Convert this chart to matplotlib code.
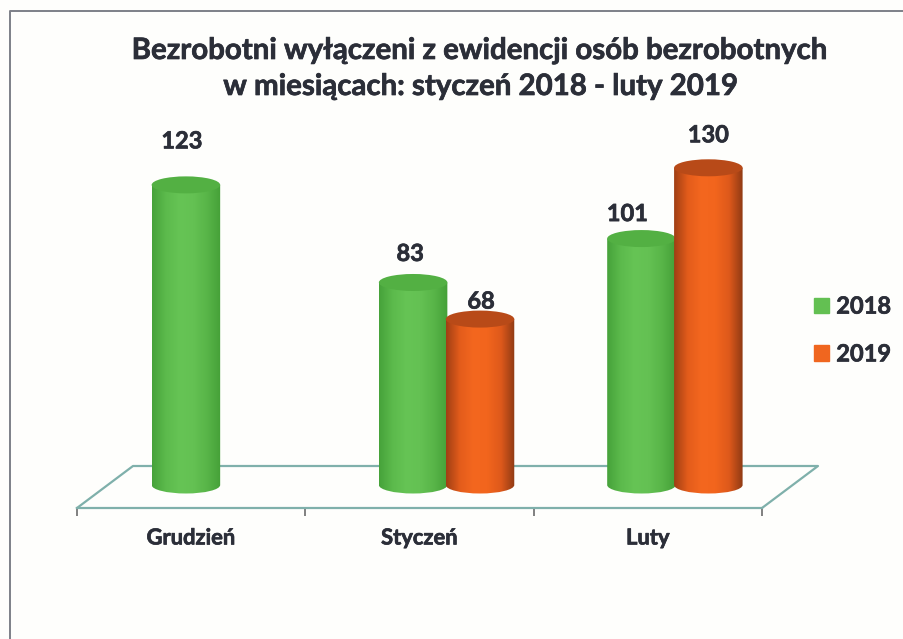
#!/usr/bin/env python3
"""Bezrobotni wylaczeni z ewidencji - 3D style cylinder chart."""

import numpy as np
import matplotlib
matplotlib.use("Agg")
import matplotlib.pyplot as plt
import matplotlib.patheffects as pe
from matplotlib.colors import LinearSegmentedColormap
from matplotlib.lines import Line2D
from matplotlib.patches import Ellipse, Patch, PathPatch
from matplotlib.path import Path

months = ["Grudzień", "Styczeń", "Luty"]
values_2018 = [123, 83, 101]
values_2019 = [None, 68, 130]
series_names = ["2018", "2019"]

W, H = 904, 639
TEXT = "#2b2e38"
FLOOR = "#7fb0ab"
PX_PER_UNIT = 2.44
ZERO_PX = 23  # floor front edge sits this far below value 0

plt.rcParams["font.family"] = ["Lato", "DejaVu Sans"]
plt.rcParams["font.weight"] = "bold"
heavier = [pe.withStroke(linewidth=0.5, foreground=TEXT)]

fig = plt.figure(figsize=(W / 100, H / 100), dpi=100, facecolor="#fefefc")
ax = fig.add_axes([77 / W, 1 - 508 / H, 685 / W, 408 / H])
ax.patch.set_alpha(0)

ry = 8.5 / PX_PER_UNIT  # ellipse half height in data units
bar_w = 0.30
group_shift = 0.62

green = LinearSegmentedColormap.from_list(
    "g", ["#46a23a", "#5cba4c", "#66c455", "#64c153", "#58b548", "#45a038"])
orange = LinearSegmentedColormap.from_list(
    "o", ["#a03f14", "#e35c1b", "#f4671f", "#f2651d", "#de591b", "#8f3a14"])
shade = np.linspace(0, 1, 256).reshape(1, -1)


def cylinder(x, value, cmap, top_color):
    left, right = x - bar_w / 2, x + bar_w / 2
    k = 0.5523
    dx = bar_w / 2 * k
    verts = [(left, value), (left, 0),
             (left, -ry * k), (x - dx, -ry), (x, -ry),
             (x + dx, -ry), (right, -ry * k), (right, 0),
             (right, value), (left, value)]
    codes = [Path.MOVETO, Path.LINETO,
             Path.CURVE4, Path.CURVE4, Path.CURVE4,
             Path.CURVE4, Path.CURVE4, Path.CURVE4,
             Path.LINETO, Path.CLOSEPOLY]
    body = PathPatch(Path(verts, codes), facecolor="none", edgecolor="none")
    ax.add_patch(body)
    im = ax.imshow(shade, cmap=cmap, extent=(left, right, -ry, value + ry),
                   aspect="auto", zorder=3, origin="lower")
    im.set_clip_path(body)
    ax.add_patch(Ellipse((x, value), bar_w, 2 * ry, facecolor=top_color,
                         edgecolor="none", zorder=3))


# floor behind the bars
x0, x1 = 0, len(months)
front = -ZERO_PX / PX_PER_UNIT
back = front + 42 / PX_PER_UNIT
slant = 56 / (685 / 3)
ax.plot([x0, x0 + slant, x1 + slant, x1], [front, back, back, front],
        color=FLOOR, lw=1.6, clip_on=False, zorder=1)

for i, v in enumerate(values_2018):
    cylinder(i + group_shift - 0.148 if values_2019[i] is not None else i + 0.477,
             v, green, "#53b043")
    if values_2019[i] is not None:
        cylinder(i + group_shift + 0.145, values_2019[i], orange, "#b84a18")

ax.set_xlim(x0, x1)
ax.set_ylim(front, front + 408 / PX_PER_UNIT)

# value labels, offsets in pixels from the top of each cylinder
label_2018 = [(-4, 44), (-3, 29), (-14, 25)]
label_2019 = [None, (1, 18), (0, 33)]
for i, v in enumerate(values_2018):
    x = i + group_shift - 0.148 if values_2019[i] is not None else i + 0.477
    ax.annotate(str(v), (x, v), xytext=label_2018[i], textcoords="offset pixels",
                ha="center", va="center", fontsize=17, color=TEXT, zorder=5,
                path_effects=heavier)
    if values_2019[i] is not None:
        ax.annotate(str(values_2019[i]), (i + group_shift + 0.145, values_2019[i]),
                    xytext=label_2019[i], textcoords="offset pixels",
                    ha="center", va="center", fontsize=17, color=TEXT, zorder=5,
                    path_effects=heavier)

for side in ["top", "left", "right"]:
    ax.spines[side].set_visible(False)
ax.spines["bottom"].set_color(FLOOR)
ax.spines["bottom"].set_linewidth(1.6)
ax.set_yticks([])
ax.set_xticks(range(len(months) + 1))
ax.set_xticklabels([])
ax.tick_params(axis="x", length=6, width=1.4, color="#808080")
ax.set_xticks(np.arange(len(months)) + 0.5, minor=True)
ax.set_xticklabels(months, minor=True, fontsize=15.8, color=TEXT, path_effects=heavier)
ax.tick_params(axis="x", which="minor", length=0, pad=14)

# title
fig.text(478 / W, 1 - 51 / H, "Bezrobotni wyłączeni z ewidencji osób bezrobotnych",
         ha="center", va="center", fontsize=21.2, color=TEXT, path_effects=heavier)
fig.text(480 / W, 1 - 87 / H, "w miesiącach: styczeń 2018 - luty 2019",
         ha="center", va="center", fontsize=21.2, color=TEXT, path_effects=heavier)

# legend
handles = [Patch(color="#63c052"), Patch(color="#f0661f")]
leg = fig.legend(handles, series_names, loc="center left",
                 bbox_to_anchor=(807 / W, 1 - 330 / H), frameon=False, fontsize=17,
                 labelcolor=TEXT, handlelength=0.64, handleheight=0.64,
                 handletextpad=0.3, labelspacing=1.05, borderpad=0, borderaxespad=0.3)
for t in leg.get_texts():
    t.set_path_effects(heavier)

# scanned page border
fig.add_artist(Line2D([10 / W, 10 / W, 1], [0, 1 - 11 / H, 1 - 11 / H],
                      color="#7d8088", lw=1.4, transform=fig.transFigure))

fig.savefig("out.png", dpi=100, facecolor=fig.get_facecolor())
